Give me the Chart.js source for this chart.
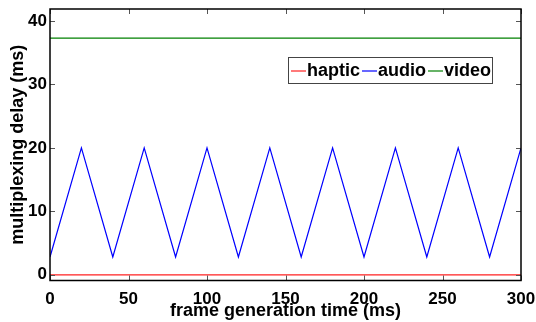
<!DOCTYPE html>
<html>
<head>
<meta charset="utf-8">
<script src="https://cdn.jsdelivr.net/npm/chart.js@4.4.1/dist/chart.umd.min.js"></script>
<style>
  html, body { margin: 0; padding: 0; background: #fff; }
  #wrap { width: 536px; height: 322px; }
</style>
</head>
<body>
<div id="wrap"><canvas id="chart" width="536" height="322"></canvas></div>
<script>
// frame generation time (ms) at each sample
const frameTimes = [0, 20, 40, 60, 80, 100, 120, 140, 160, 180, 200, 220, 240, 260, 280, 300]
const hapticDelay = [0, 0, 0, 0, 0, 0, 0, 0, 0, 0, 0, 0, 0, 0, 0, 0]
const audioDelay = [2.8, 20, 2.8, 20, 2.8, 20, 2.8, 20, 2.8, 20, 2.8, 20, 2.8, 20, 2.8, 20]
const videoDelay = [37.3, 37.3, 37.3, 37.3, 37.3, 37.3, 37.3, 37.3, 37.3, 37.3, 37.3, 37.3, 37.3, 37.3, 37.3, 37.3]
const seriesNames = ['haptic', 'audio', 'video']
const seriesColors = ['#ff2020', '#0000ff', '#008000']
const xTicks = [0, 50, 100, 150, 200, 250, 300]
const yTicks = [0, 10, 20, 30, 40]

const FONT = '"Liberation Sans", Arial, Helvetica, sans-serif'

const toPoints = (ys) => frameTimes.map((x, i) => ({ x, y: ys[i] }))

// frame around the plot with short inward ticks on every side
const framePlugin = {
	id: 'frame',
	afterDraw(chart) {
		const { ctx, chartArea: a, scales } = chart
		ctx.save()
		ctx.strokeStyle = '#555'
		ctx.lineWidth = 1
		const tl = 5
		ctx.beginPath()
		xTicks.forEach((v) => {
			const px = Math.round(scales.x.getPixelForValue(v)) + 0.5
			ctx.moveTo(px, a.bottom); ctx.lineTo(px, a.bottom - tl)
			ctx.moveTo(px, a.top); ctx.lineTo(px, a.top + tl)
		})
		yTicks.forEach((v) => {
			const py = Math.round(scales.y.getPixelForValue(v)) + 0.5
			ctx.moveTo(a.left, py); ctx.lineTo(a.left + tl, py)
			ctx.moveTo(a.right, py); ctx.lineTo(a.right - tl, py)
		})
		ctx.stroke()
		ctx.strokeStyle = '#000'
		ctx.lineWidth = 1.5
		ctx.strokeRect(a.left, a.top, a.right - a.left, a.bottom - a.top)
		ctx.restore()
	},
}

// matlab style legend box inside the plot
const legendPlugin = {
	id: 'boxLegend',
	afterDraw(chart) {
		const { ctx } = chart
		const box = { left: 288, top: 57, right: 492, bottom: 83 }
		ctx.save()
		ctx.fillStyle = '#fff'
		ctx.fillRect(box.left, box.top, box.right - box.left, box.bottom - box.top)
		ctx.strokeStyle = '#444'
		ctx.lineWidth = 1
		ctx.strokeRect(box.left + 0.5, box.top + 0.5, box.right - box.left, box.bottom - box.top)
		ctx.font = 'bold 18px ' + FONT
		ctx.textBaseline = 'middle'
		const cy = (box.top + box.bottom) / 2 + 1
		let x = box.left + 3
		chart.data.datasets.forEach((ds) => {
			ctx.strokeStyle = ds.borderColor
			ctx.lineWidth = 1.2
			ctx.beginPath()
			ctx.moveTo(x, cy); ctx.lineTo(x + 15, cy)
			ctx.stroke()
			x += 16
			ctx.fillStyle = '#000'
			ctx.fillText(ds.label, x, cy)
			x += ctx.measureText(ds.label).width + 2
		})
		ctx.restore()
	},
}

const datasets = [hapticDelay, audioDelay, videoDelay].map((ys, i) => ({
	label: seriesNames[i],
	data: toPoints(ys),
	borderColor: seriesColors[i],
	borderWidth: 1.2,
	pointRadius: 0,
	tension: 0,
	fill: false,
}))

new Chart(document.getElementById('chart'), {
	type: 'line',
	data: { datasets },
	plugins: [framePlugin, legendPlugin],
	options: {
		responsive: false,
		animation: false,
		layout: { padding: { left: 0, right: 15, top: 9, bottom: 0 } },
		plugins: { legend: { display: false }, tooltip: { enabled: false } },
		scales: {
			x: {
				type: 'linear',
				min: 0,
				max: 300,
				afterBuildTicks: (s) => { s.ticks = xTicks.map((v) => ({ value: v })) },
				afterFit: (s) => { s.height = 41.5; s.paddingRight = 0; s.paddingLeft = 0 },
				grid: { display: false, drawTicks: false },
				border: { display: false },
				ticks: { color: '#000', padding: 9, maxRotation: 0, font: { family: FONT, size: 17, weight: 'bold' } },
				title: { display: true, text: 'frame generation time (ms)', color: '#000', padding: { top: 0, bottom: 0 }, font: { family: FONT, size: 18, weight: 'bold' } },
			},
			y: {
				type: 'linear',
				min: -0.9,
				max: 41.9,
				afterBuildTicks: (s) => { s.ticks = yTicks.map((v) => ({ value: v })) },
				afterFit: (s) => { s.width = 50; s.paddingTop = 0; s.paddingBottom = 0 },
				grid: { display: false, drawTicks: false },
				border: { display: false },
				ticks: { color: '#000', padding: 3, font: { family: FONT, size: 17, weight: 'bold' } },
				title: { display: true, text: 'multiplexing delay (ms)', color: '#000', padding: { top: 7, bottom: 0 }, font: { family: FONT, size: 18, weight: 'bold' } },
			},
		},
	},
})
</script>
</body>
</html>
